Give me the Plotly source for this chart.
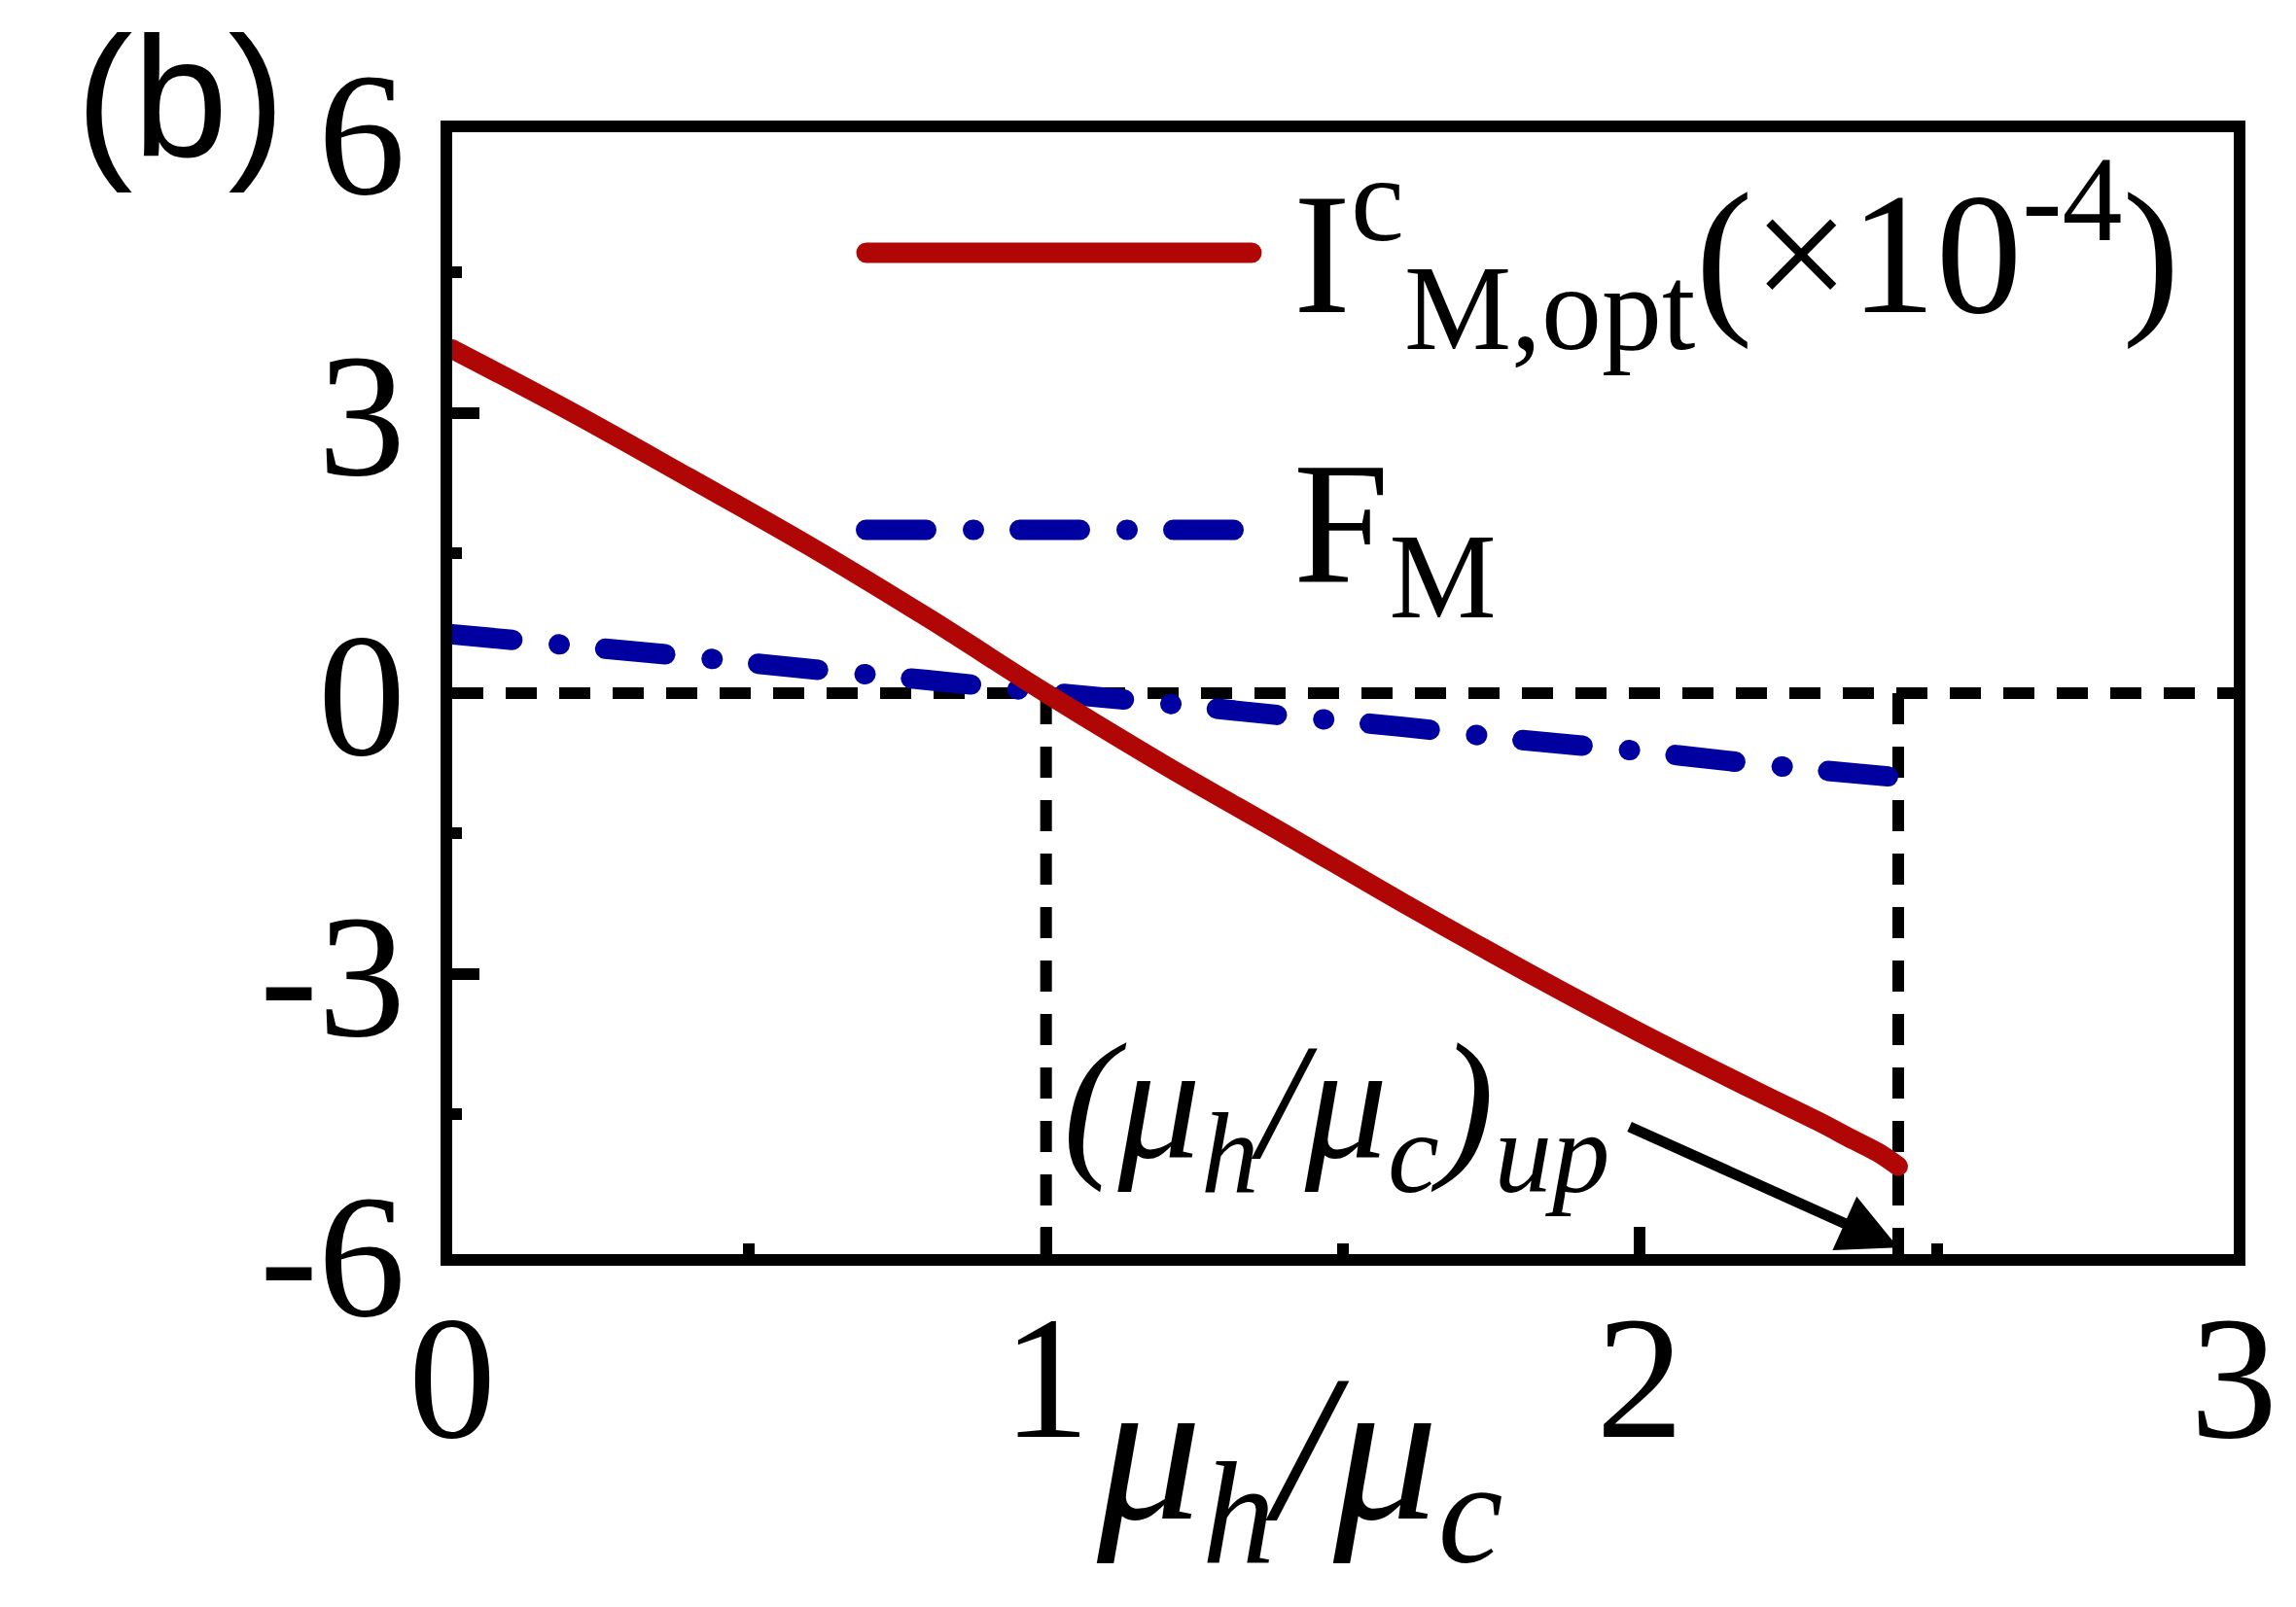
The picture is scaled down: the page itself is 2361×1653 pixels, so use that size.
import plotly.graph_objects as go

# ---- data ----
ratio_I = [0, 0.2, 0.4, 0.6, 0.8, 1.0, 1.2, 1.4, 1.6, 1.8, 2.0, 2.2, 2.3, 2.36, 2.40, 2.435]
I_opt = [3.68, 3.01, 2.30, 1.58, 0.81, 0.0, -0.77, -1.50, -2.24, -2.95, -3.63, -4.27, -4.58, -4.78, -4.91, -5.06]

ratio_F = [0, 0.2, 0.4, 0.6, 0.8, 1.0, 1.2, 1.4, 1.6, 1.8, 2.0, 2.2, 2.435]
F_M = [0.63, 0.51, 0.39, 0.26, 0.14, 0.01, -0.11, -0.24, -0.36, -0.50, -0.62, -0.76, -0.90]

ratio_up = 2.435          # (mu_h/mu_c)_up
ratio_one = 1.0
x_ticks = [0, 1, 2, 3]
y_ticks = [-6, -3, 0, 3, 6]

W, H = 2361, 1653
L, R, T, B = 465, 64, 136, 363
PW, PH = W - L - R, H - T - B

def px(xp):
    return (xp - L) / PW

def py(yp):
    return 1 - (yp - T) / PH

RED = "#B00606"    # rgb(176,6,6)
BLUE = "#0000A0"   # rgb(0,0,160)
SERIF = "Liberation Serif"
BLUE_DASH = "62px,48px,1px,47px"   # drawn with round caps

fig = go.Figure()

# reference dashed lines
for xs, ys in (([0, 3], [0, 0]), ([ratio_one, ratio_one], [0, -6]), ([ratio_up, ratio_up], [0, -6])):
    fig.add_trace(go.Scatter(x=xs, y=ys, mode="lines",
                             line=dict(color="black", width=12, dash="32px,23px"),
                             hoverinfo="skip", showlegend=False))

# curves
fig.add_trace(go.Scatter(x=ratio_F, y=F_M, mode="lines",
                         line=dict(color=BLUE, width=21, dash=BLUE_DASH, shape="spline"),
                         showlegend=False))
fig.add_trace(go.Scatter(x=ratio_I, y=I_opt, mode="lines",
                         line=dict(color=RED, width=20, shape="spline", smoothing=1.0),
                         showlegend=False))

axis_common = dict(
    showline=True, linecolor="black", linewidth=12, mirror=True,
    ticks="inside", ticklen=28, tickwidth=12, tickcolor="black",
    showgrid=False, zeroline=False,
    tickfont=dict(family=SERIF, size=180, color="black"),
)

fig.update_xaxes(range=[0, 3], tickvals=x_ticks, ticktext=[str(v) for v in x_ticks],
                 minor=dict(dtick=0.5, tick0=0, ticks="inside", ticklen=11,
                            tickwidth=12, tickcolor="black", showgrid=False),
                 ticklabelstandoff=-40, **axis_common)
fig.update_yaxes(range=[-6, 6], tickvals=y_ticks, ticktext=[str(v) for v in y_ticks],
                 minor=dict(dtick=1.5, tick0=0, ticks="inside", ticklen=10,
                            tickwidth=12, tickcolor="black", showgrid=False),
                 ticklabelstandoff=0, **axis_common)

shapes = [
    dict(type="line", xref="paper", yref="paper",
         x0=px(891), x1=px(1287), y0=py(260), y1=py(260),
         line=dict(color=RED, width=21)),
    dict(type="line", xref="paper", yref="paper",
         x0=px(890.5), x1=px(1268.5), y0=py(545), y1=py(545),
         line=dict(color=BLUE, width=21, dash=BLUE_DASH)),
]

annotations = [
    dict(text="I<sup>c</sup><sub>M,opt</sub>(×10<sup>-4</sup>)", xref="paper", yref="paper",
         x=px(1328), y=py(262), xanchor="left", yanchor="middle", showarrow=False,
         font=dict(family=SERIF, size=177, color="black")),
    dict(text="F<sub>M</sub>", xref="paper", yref="paper",
         x=px(1328), y=py(551), xanchor="left", yanchor="middle", showarrow=False,
         font=dict(family=SERIF, size=177, color="black")),
    dict(text="(b)", xref="paper", yref="paper",
         x=px(76), y=py(100), xanchor="left", yanchor="middle", showarrow=False,
         font=dict(family="Liberation Sans", size=176, color="black")),
    dict(text="<i>μ<sub>h</sub>/μ<sub>c</sub></i>", xref="paper", yref="paper",
         x=px(1336), y=py(1505), xanchor="center", yanchor="middle", showarrow=False,
         font=dict(family=SERIF, size=215, color="black")),
    dict(text="<i>(μ<sub>h</sub>/μ<sub>c</sub>)<sub>up</sub></i>", xref="x", yref="y",
         x=1.025, y=-4.50, xanchor="left", yanchor="middle", showarrow=False,
         font=dict(family=SERIF, size=170, color="black")),
    dict(text="", x=ratio_up, y=-5.93, ax=1.98, ay=-4.63, xref="x", yref="y",
         axref="x", ayref="y", showarrow=True, arrowhead=2, arrowsize=1.1,
         arrowwidth=11, arrowcolor="black", standoff=0),
]

fig.update_layout(
    width=W, height=H,
    margin=dict(l=L, r=R, t=T, b=B, pad=0),
    paper_bgcolor="white", plot_bgcolor="white",
    shapes=shapes, annotations=annotations,
    showlegend=False,
)

post_js = """
document.body.style.margin = '0';
function roundCaps() {
  var gd = document.getElementById('{plot_id}');
  if (!gd) return;
  gd.querySelectorAll('path').forEach(function (p) {
    var s = (p.style.stroke || '').replace(/\\s/g, '');
    if (s === 'rgb(0,0,160)' || s === 'rgb(176,6,6)') {
      p.style.strokeLinecap = 'round';
    }
  });
}
roundCaps();
setTimeout(roundCaps, 50);
setTimeout(roundCaps, 400);
"""

fig.write_html("out.html", post_script=post_js, config={"displayModeBar": False})
